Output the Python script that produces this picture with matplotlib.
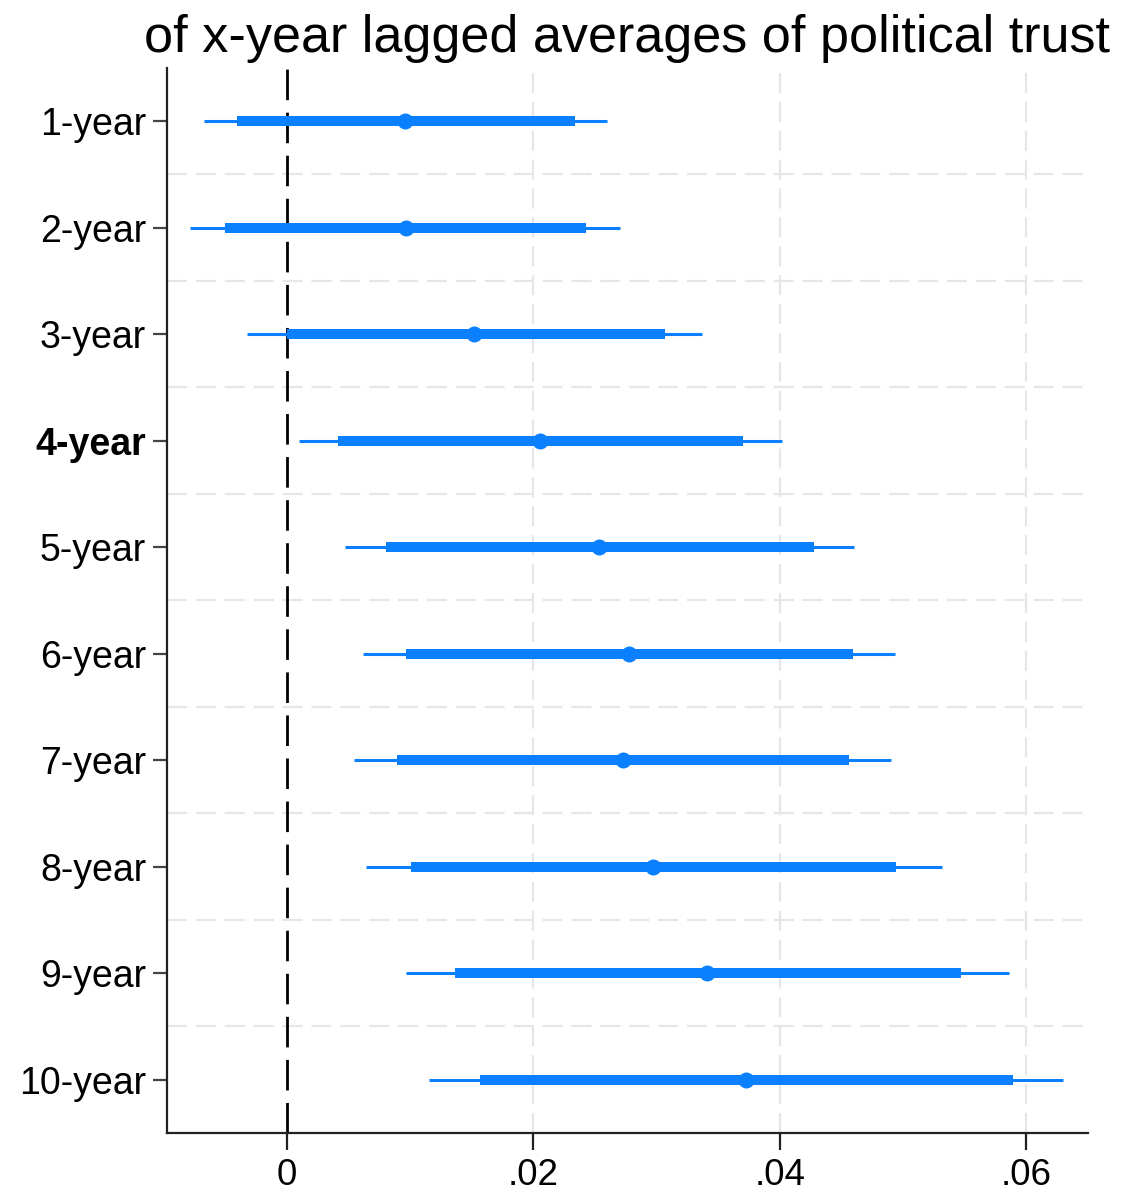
import matplotlib
matplotlib.use("Agg")
import matplotlib.pyplot as plt
import numpy as np

plt.rcParams['font.family'] = ['Liberation Sans', 'DejaVu Sans']

labels = ["1-year", "2-year", "3-year", "4-year", "5-year",
          "6-year", "7-year", "8-year", "9-year", "10-year"]
coef = [0.00957, 0.00963, 0.01517, 0.02053, 0.02531,
        0.02775, 0.02726, 0.02970, 0.03408, 0.03724]
ci95_lo = [-0.00673, -0.00785, -0.00325, 0.00097, 0.00471,
           0.00617, 0.00544, 0.00641, 0.00966, 0.01155]
ci95_hi = [0.02596, 0.02702, 0.03367, 0.04016, 0.04600,
           0.04933, 0.04901, 0.05314, 0.05858, 0.06300]
ci90_lo = [-0.00406, -0.00503, 0.00000, 0.00414, 0.00803,
           0.00966, 0.00892, 0.01006, 0.01363, 0.01564]
ci90_hi = [0.02337, 0.02424, 0.03067, 0.03703, 0.04276,
           0.04592, 0.04560, 0.04941, 0.05469, 0.05890]
xticks = [0, 0.02, 0.04, 0.06]
xticklabels = ["0", ".02", ".04", ".06"]
title = "of x-year lagged averages of political trust"

color = "#0a80ff"

fig = plt.figure(figsize=(11.26, 11.95), dpi=100)
ax = fig.add_axes([0.1483, 0.0519, 0.8180, 0.8912])

y = np.arange(1, len(labels) + 1)

# grid
for xv in xticks[1:]:
    ax.axvline(xv, color="#e6e6e6", lw=1.6, ls=(0, (9, 4)), zorder=0)
for yv in np.arange(1.5, len(labels), 1.0):
    ax.axhline(yv, color="#e6e6e6", lw=1.6, ls=(0, (9, 4)), zorder=0)

ax.axvline(0, color="black", lw=2.0, ls=(0, (11, 4.5)), zorder=1)

ax.hlines(y, ci95_lo, ci95_hi, color=color, lw=2.2, zorder=2)
ax.hlines(y, ci90_lo, ci90_hi, color=color, lw=7.2, zorder=3)
ax.plot(coef, y, 'o', color=color, ms=11.5, zorder=4, markeredgewidth=0)

ax.set_xlim(-0.00974, 0.0650)
ax.set_ylim(10.5, 0.5)
ax.set_yticks(y)
ax.set_yticklabels(labels, fontsize=27)
ax.get_yticklabels()[3].set_fontweight('bold')
ax.set_xticks(xticks)
ax.set_xticklabels(xticklabels, fontsize=26.5)

for s in ["top", "right"]:
    ax.spines[s].set_visible(False)
for s in ["left", "bottom"]:
    ax.spines[s].set_linewidth(1.6)
    ax.spines[s].set_color("#222222")
ax.tick_params(axis='y', length=10, width=1.6, color="#444444", pad=5)
ax.tick_params(axis='x', length=12, width=1.6, color="#222222", pad=6)

fig.text(0.557, 1 - 52 / 1195, title, fontsize=37.5, ha='center', va='baseline')

fig.savefig("out.png", dpi=100)
